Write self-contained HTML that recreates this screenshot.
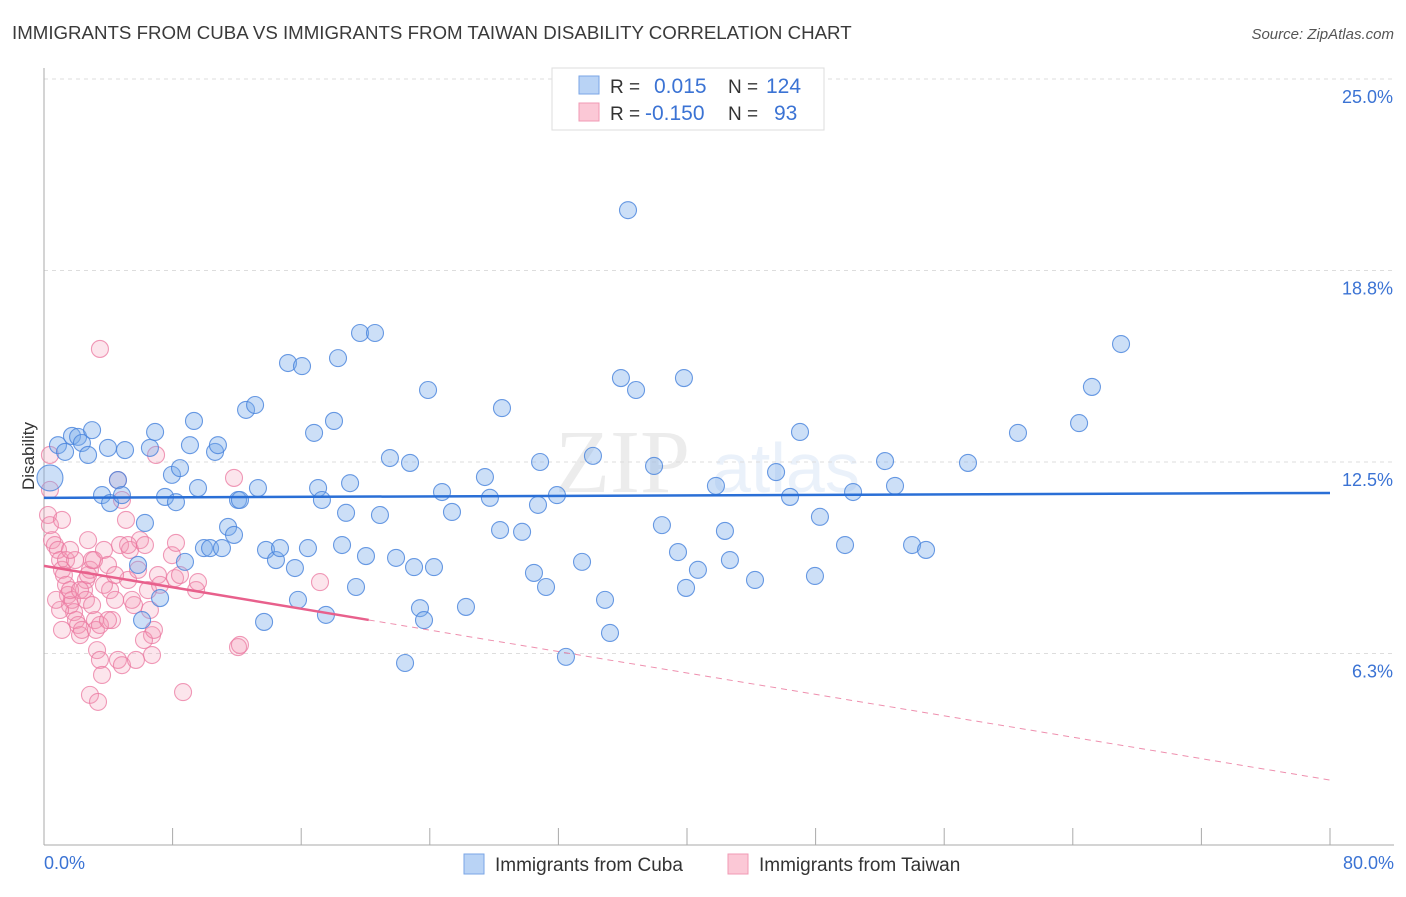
<!DOCTYPE html>
<html><head><meta charset="utf-8"><style>
body{margin:0;background:#fff;font-family:"Liberation Sans",sans-serif;}
</style></head><body>
<svg id="chart" width="1406" height="892" xmlns="http://www.w3.org/2000/svg" font-family="Liberation Sans, sans-serif">
<text x="12" y="39" font-size="18.7" fill="#3a3a3a">IMMIGRANTS FROM CUBA VS IMMIGRANTS FROM TAIWAN DISABILITY CORRELATION CHART</text>
<text x="1394" y="39" font-size="15" fill="#555" text-anchor="end" font-style="italic">Source: ZipAtlas.com</text>
<text x="555" y="492" font-size="90" fill="#000" opacity="0.07" font-family="Liberation Serif, serif">ZIP</text>
<text x="712" y="492" font-size="70" fill="#5b8fdc" opacity="0.12">atlas</text>
<g id="grid"></g>
<g id="axes"></g>
<g id="marks"></g>
<text transform="translate(34,456) rotate(-90)" font-size="17" fill="#333" text-anchor="middle">Disability</text>
<text x="44" y="869" font-size="18" fill="#3b73d4">0.0%</text>
<text x="1394" y="869" font-size="18" fill="#3b73d4" text-anchor="end">80.0%</text>
<g>
<rect x="552" y="68" width="272" height="62" fill="#fff" stroke="#ddd"/>
<rect x="579" y="76" width="20" height="18" fill="#b9d3f5" stroke="#7aa6e6"/>
<rect x="579" y="103" width="20" height="18" fill="#fbc8d6" stroke="#f09ab4"/>
<text x="610" y="93" font-size="19" fill="#333">R = </text><text x="654" y="93" font-size="21" fill="#3b73d4">0.015</text>
<text x="728" y="93" font-size="19" fill="#333">N = </text><text x="766" y="93" font-size="21" fill="#3b73d4">124</text>
<text x="610" y="120" font-size="19" fill="#333">R = </text><text x="645" y="120" font-size="21" fill="#3b73d4">-0.150</text>
<text x="728" y="120" font-size="19" fill="#333">N = </text><text x="774" y="120" font-size="21" fill="#3b73d4">93</text>
</g>
<g>
<rect x="464" y="854" width="20" height="20" fill="#b9d3f5" stroke="#7aa6e6"/>
<text x="495" y="871" font-size="19" fill="#333">Immigrants from Cuba</text>
<rect x="728" y="854" width="20" height="20" fill="#fbc8d6" stroke="#f09ab4"/>
<text x="759" y="871" font-size="19" fill="#333">Immigrants from Taiwan</text>
</g>
</svg>
<script>
const yTicks=[25,18.75,12.5,6.25];
const yTickLabels=["25.0%","18.8%","12.5%","6.3%"];
const xTicks=[0,8,16,24,32,40,48,56,64,72,80];
const cubaX=[0.37,0.87,1.31,1.74,2.12,2.36,2.74,2.99,3.61,3.98,4.11,4.60,4.85,5.04,5.85,6.10,6.28,6.59,6.91,7.22,7.53,7.96,8.21,8.46,8.77,9.08,9.33,9.58,9.95,10.33,10.64,10.82,11.07,11.45,11.82,12.07,12.19,12.57,13.13,13.31,13.69,13.81,14.43,14.68,15.18,15.61,15.80,16.05,16.42,16.80,17.05,17.29,17.54,18.04,18.29,18.54,18.79,19.04,19.41,19.66,20.03,20.59,20.90,21.52,21.90,22.46,22.77,23.02,23.39,23.64,23.89,24.26,24.76,25.38,26.25,27.43,27.74,28.37,28.49,29.74,30.48,30.86,30.73,31.23,31.91,32.47,33.47,34.15,34.90,35.21,35.89,36.33,36.83,37.95,38.44,39.44,39.81,39.94,40.68,41.80,42.36,42.67,44.23,45.54,46.41,47.03,47.96,48.27,49.83,50.33,52.32,52.94,54.00,54.87,57.48,60.59,64.39,65.19,67.00];
const cubaY=[11.98,13.05,12.83,13.35,13.32,13.12,12.73,13.54,11.42,12.96,11.16,11.91,11.42,12.89,9.14,7.34,10.51,12.96,13.48,8.06,11.36,12.08,11.19,12.30,9.24,13.05,13.84,11.65,9.69,9.69,12.83,13.05,9.69,10.38,10.12,11.26,11.26,14.20,14.36,11.65,7.28,9.63,9.30,9.69,15.73,9.04,8.00,15.63,9.69,13.45,11.65,11.26,7.51,13.84,15.89,9.79,10.84,11.81,8.42,16.71,9.43,16.71,10.77,12.63,9.37,5.94,12.47,9.07,7.73,7.34,14.85,9.07,11.52,10.87,7.77,12.01,11.33,10.28,14.26,10.22,8.88,12.50,11.10,8.42,11.42,6.14,9.24,12.70,8.00,6.92,15.24,20.72,14.85,12.37,10.44,9.56,15.24,8.39,8.98,11.72,10.25,9.30,8.65,12.17,11.36,13.48,8.78,10.71,9.79,11.52,12.53,11.72,9.79,9.63,12.47,13.45,13.77,14.95,16.35];
const taiwanX=[0.37,0.37,0.25,0.37,0.50,0.68,0.87,1.00,1.12,1.24,1.37,1.49,1.62,1.74,1.87,1.99,2.12,2.24,2.36,2.49,2.61,2.74,2.86,2.99,3.17,3.30,3.48,3.61,2.86,3.36,3.73,3.98,4.11,4.42,4.60,4.73,4.85,5.10,5.23,5.35,5.60,5.85,5.97,6.28,6.47,6.59,6.72,6.72,6.97,7.09,7.22,7.96,8.15,8.21,8.46,8.65,9.46,9.58,11.82,12.07,12.19,17.17,3.48,1.00,1.12,1.37,1.62,1.93,2.24,2.61,2.99,3.23,3.73,4.23,4.60,4.85,5.23,5.47,5.72,6.22,6.84,3.11,2.74,1.62,0.75,1.12,3.48,3.98,4.42];
const taiwanY=[12.73,11.59,10.77,10.44,9.95,9.79,9.63,9.30,8.98,8.81,8.49,8.16,7.83,8.00,7.60,7.34,7.18,6.85,7.02,8.32,8.65,8.81,8.98,9.30,7.34,6.36,6.04,5.55,4.90,4.67,9.63,9.14,8.32,8.00,11.91,9.79,11.26,10.61,8.65,9.63,7.83,8.98,9.95,9.79,8.32,7.67,6.85,6.20,12.73,8.81,8.49,9.46,8.71,9.86,8.81,4.99,8.32,8.58,11.98,6.46,6.53,8.58,16.19,7.67,10.61,9.30,8.32,9.30,8.32,8.00,7.83,7.02,8.49,7.34,6.04,5.87,9.79,8.00,6.04,6.69,7.02,9.30,9.95,9.63,8.00,7.02,7.18,7.34,8.81];
const cubaTrend=[11.33,11.49];
const taiwanTrend=[9.11,2.12];
const taiwanSolidEnd=20.2;

const NS="http://www.w3.org/2000/svg";
const X0=44,X1=1330,Y0=845,Yscale=30.64;
function sx(v){return X0+(X1-X0)*v/80;}
function sy(v){return Y0-v*Yscale;}
function mk(tag,attrs,parent){const e=document.createElementNS(NS,tag);for(const k in attrs)e.setAttribute(k,attrs[k]);parent.appendChild(e);return e;}
const grid=document.getElementById('grid'),axes=document.getElementById('axes'),marks=document.getElementById('marks');
yTicks.forEach((t,i)=>{
  const l=mk('line',{x1:X0,x2:1394,y1:sy(t),y2:sy(t),stroke:'#ddd','stroke-dasharray':'4,4'},grid);
  
  
  const tx=mk('text',{x:1393,y:sy(t)+24,'font-size':18,fill:'#3b73d4','text-anchor':'end'},grid);
  tx.textContent=yTickLabels[i];
  
  
});
const ya=mk('line',{x1:X0,x2:X0,y1:68,y2:Y0,stroke:'#aaa'},axes);


const xa=mk('line',{x1:X0,x2:1394,y1:Y0,y2:Y0,stroke:'#aaa'},axes);


xTicks.forEach(t=>{
  const l=mk('line',{x1:sx(t),x2:sx(t),y1:828,y2:Y0,stroke:'#aaa'},axes);
  
  
});
function dots(xs,ys,fill,stroke,name,bigFirst){
  xs.forEach((x,i)=>{
    const r=(bigFirst&&i===0)?13:8.5;
    const c=mk('circle',{cx:sx(x),cy:sy(ys[i]),r:r,fill:fill,stroke:stroke,'stroke-width':1.1},marks);
    
    
  });
}
dots(taiwanX,taiwanY,'rgba(245,150,180,0.25)','rgba(235,120,160,0.75)','taiwan-point',false);
dots(cubaX,cubaY,'rgba(120,170,235,0.38)','rgba(70,130,220,0.8)','cuba-point',true);
const bt=mk('line',{x1:sx(0),x2:sx(80),y1:sy(cubaTrend[0]),y2:sy(cubaTrend[1]),stroke:'#2a6fd6','stroke-width':2.5},marks);


const pAt=x=>taiwanTrend[0]+(taiwanTrend[1]-taiwanTrend[0])*x/80;
const pt=mk('line',{x1:sx(0),x2:sx(taiwanSolidEnd),y1:sy(taiwanTrend[0]),y2:sy(pAt(taiwanSolidEnd)),stroke:'#e8608c','stroke-width':2.5},marks);


const pd=mk('line',{x1:sx(taiwanSolidEnd),x2:sx(80),y1:sy(pAt(taiwanSolidEnd)),y2:sy(taiwanTrend[1]),stroke:'#e8608c','stroke-width':1,'stroke-dasharray':'6,5',opacity:0.7},marks);


</script>
</body></html>
